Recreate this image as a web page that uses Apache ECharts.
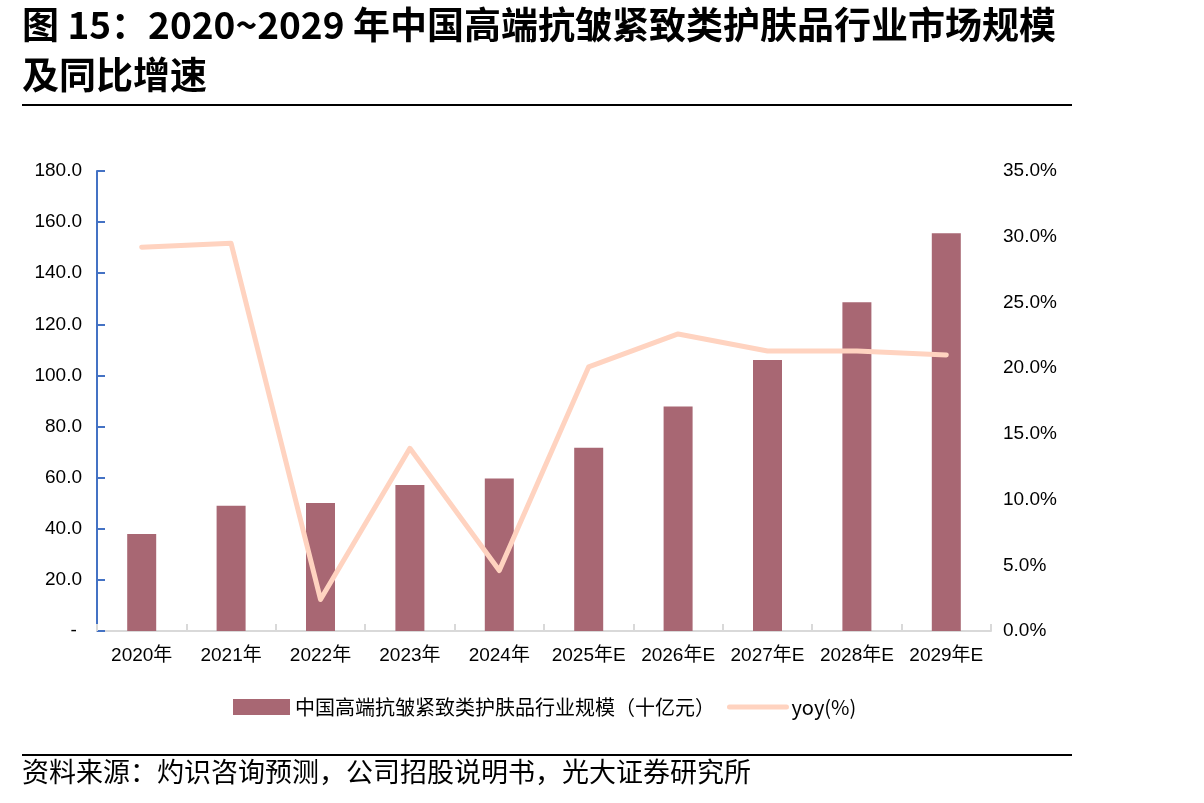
<!DOCTYPE html>
<html>
<head>
<meta charset="utf-8">
<script src="https://cdn.jsdelivr.net/npm/echarts@6/dist/echarts.min.js"></script>
<style>
  html, body { margin: 0; padding: 0; background: #fff; }
  #chart { width: 1204px; height: 803px; }
</style>
</head>
<body>
<div id="chart"></div>
<script>
const categories = ["2020年", "2021年", "2022年", "2023年", "2024年", "2025年E", "2026年E", "2027年E", "2028年E", "2029年E"];
const marketSize = [38.0, 49.0, 50.1, 57.1, 59.7, 71.7, 87.8, 106.0, 128.6, 155.6];
const yoyPct = [29.2, 29.5, 2.4, 13.9, 4.6, 20.1, 22.6, 21.3, 21.3, 21.0];

const sizeName = "中国高端抗皱紧致类护肤品行业规模（十亿元）";
const yoyName = "yoy(%)";

const latin = "'Liberation Sans', Arial, 'Noto Sans CJK SC', sans-serif";
const cjk = "'Noto Sans CJK SC', 'Noto Sans', sans-serif";

const chart = echarts.init(document.getElementById("chart"), null, { renderer: "canvas" });

chart.setOption({
  backgroundColor: "#ffffff",
  animation: false,
  graphic: [
    {
      type: "text", left: 22, top: 6,
      style: { text: "图 15：2020~2029 年中国高端抗皱紧致类护肤品行业市场规模", font: "bold 37px " + cjk, fill: "#000" }
    },
    {
      type: "text", left: 22, top: 56,
      style: { text: "及同比增速", font: "bold 37px " + cjk, fill: "#000" }
    },
    { type: "rect", shape: { x: 22, y: 104, width: 1050, height: 2 }, style: { fill: "#000" } },
    { type: "rect", shape: { x: 22, y: 754, width: 1050, height: 2 }, style: { fill: "#000" } },
    {
      type: "text", left: 22, top: 758,
      style: { text: "资料来源：灼识咨询预测，公司招股说明书，光大证券研究所", font: "27px " + cjk, fill: "#000" }
    }
  ],
  legend: {
    left: 228,
    top: 692,
    itemWidth: 57,
    itemHeight: 16,
    itemGap: 12,
    textStyle: { fontFamily: cjk, fontSize: 20, color: "#000" },
    data: [
      { name: sizeName, icon: "rect" },
      { name: yoyName, itemStyle: { opacity: 0 }, lineStyle: { width: 5, color: "#FFD3C0", cap: "round" } }
    ]
  },
  grid: { left: 97, right: 213, top: 171, bottom: 172, containLabel: false },
  xAxis: {
    type: "category",
    data: categories,
    boundaryGap: true,
    axisLine: { lineStyle: { color: "#D9D9D9", width: 2 } },
    axisTick: { show: true, inside: true, length: 7, lineStyle: { color: "#D9D9D9", width: 2 } },
    axisLabel: { color: "#000", fontSize: 19, fontFamily: latin, margin: 15, interval: 0 }
  },
  yAxis: [
    {
      type: "value",
      min: 0, max: 180, interval: 20,
      splitLine: { show: false },
      axisLine: { show: true, lineStyle: { color: "#4472C4", width: 2 } },
      axisTick: { show: true, inside: true, length: 8, lineStyle: { color: "#4472C4", width: 2 } },
      axisLabel: {
        color: "#000", fontSize: 19, fontFamily: latin, margin: 15,
        formatter: (v) => (v === 0 ? "- " : v.toFixed(1))
      }
    },
    {
      type: "value",
      min: 0, max: 35, interval: 5,
      position: "right",
      splitLine: { show: false },
      axisLine: { show: false },
      axisTick: { show: false },
      axisLabel: {
        color: "#000", fontSize: 19, fontFamily: latin, margin: 12,
        formatter: (v) => v.toFixed(1) + "%"
      }
    }
  ],
  series: [
    {
      name: sizeName,
      type: "bar",
      data: marketSize,
      barWidth: 29,
      itemStyle: { color: "#A86773" }
    },
    {
      name: yoyName,
      type: "line",
      yAxisIndex: 1,
      data: yoyPct,
      symbol: "none",
      lineStyle: { color: "#FFD3C0", width: 5, cap: "round", join: "round" },
      itemStyle: { color: "#FFD3C0" }
    }
  ]
});
</script>
</body>
</html>
